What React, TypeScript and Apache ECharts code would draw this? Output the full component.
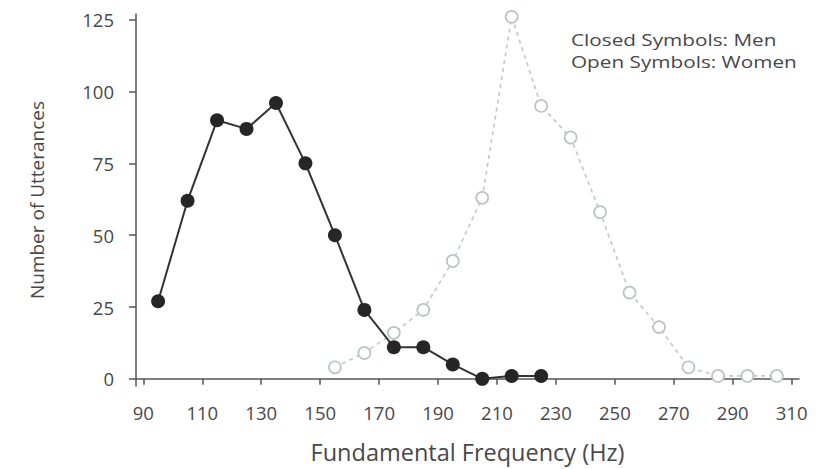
import React, { useEffect, useRef } from "react";
import * as echarts from "echarts";

const menFreq = [95, 105, 115, 125, 135, 145, 155, 165, 175, 185, 195, 205, 215, 225];
const menCounts = [27, 62, 90, 87, 96, 75, 50, 24, 11, 11, 5, 0, 1, 1];
const womenFreq = [155, 165, 175, 185, 195, 205, 215, 225, 235, 245, 255, 265, 275, 285, 295, 305];
const womenCounts = [4, 9, 16, 24, 41, 63, 126, 95, 84, 58, 30, 18, 4, 1, 1, 1];
const xTicks = [90, 110, 130, 150, 170, 190, 210, 230, 250, 270, 290, 310];
const yTicks = [0, 25, 50, 75, 100, 125];
const legendLines = ["Closed Symbols: Men", "Open Symbols: Women"];

const FONT = "'Open Sans', 'Noto Sans', sans-serif";
const TXT = "#484848";

export default function App() {
  const ref = useRef<HTMLDivElement>(null);
  useEffect(() => {
    if (!ref.current) return;
    const chart = echarts.init(ref.current, undefined, { renderer: "svg" });
    chart.setOption({
      animation: false,
      backgroundColor: "#ffffff",
      grid: { left: 136, top: 14, width: 663, height: 377, containLabel: false },
      xAxis: {
        type: "value",
        min: 87.5,
        max: 312.5,
        name: "Fundamental Frequency (Hz)",
        nameLocation: "middle",
        nameGap: 54,
        nameTextStyle: { fontFamily: FONT, fontSize: 23.5, color: TXT },
        splitLine: { show: false },
        axisLine: { show: true, lineStyle: { color: "#555", width: 1.5 } },
        axisTick: { show: true, length: 6, lineStyle: { color: "#555", width: 1.5 }, customValues: xTicks },
        axisLabel: { customValues: xTicks, fontFamily: FONT, fontSize: 18.5, color: TXT, margin: 17 },
      },
      yAxis: {
        type: "value",
        min: -2.5,
        max: 127,
        name: "Number of Utterances",
        nameLocation: "middle",
        nameRotate: 90,
        nameGap: 90,
        nameTextStyle: { fontFamily: FONT, fontSize: 19, color: TXT },
        splitLine: { show: false },
        axisLine: { show: true, lineStyle: { color: "#555", width: 1.5 } },
        axisTick: { show: true, length: 7, lineStyle: { color: "#555", width: 1.5 }, customValues: yTicks },
        axisLabel: { customValues: yTicks, fontFamily: FONT, fontSize: 18.5, color: TXT, margin: 22 },
      },
      graphic: legendLines.map((t, i) => ({
        type: "text",
        x: 571,
        y: 40 + i * 22,
        scaleX: 1.22,
        style: { text: t, fontFamily: FONT, fontSize: 17, fill: TXT, verticalAlign: "middle" },
      })),
      series: [
        {
          name: "Women",
          type: "line",
          data: womenFreq.map((f, i) => [f, womenCounts[i]]),
          symbol: "circle",
          symbolSize: 12,
          lineStyle: { color: "#c2caca", width: 1.7, type: [4, 4] },
          itemStyle: { color: "#ffffff", borderColor: "#b9c4c4", borderWidth: 1.7 },
          z: 2,
        },
        {
          name: "Men",
          type: "line",
          data: menFreq.map((f, i) => [f, menCounts[i]]),
          symbol: "circle",
          symbolSize: 14,
          lineStyle: { color: "#333333", width: 2 },
          itemStyle: { color: "#262626", borderColor: "#262626", borderWidth: 0 },
          z: 3,
        },
      ],
    });
    return () => chart.dispose();
  }, []);
  return <div ref={ref} style={{ width: 818, height: 469, position: "absolute", left: 0, top: 0 }} />;
}
